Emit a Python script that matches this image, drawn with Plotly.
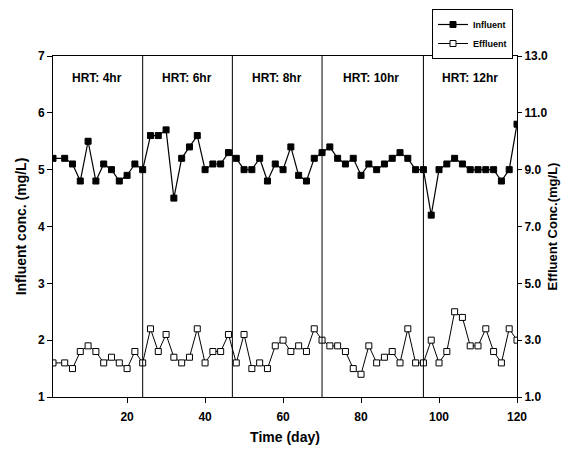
import plotly.graph_objects as go

days = [1] + list(range(4, 121, 2))
influent = [5.2, 5.2, 5.1, 4.8, 5.5, 4.8, 5.1, 5.0, 4.8, 4.9, 5.1, 5.0,
            5.6, 5.6, 5.7, 4.5, 5.2, 5.4, 5.6, 5.0, 5.1, 5.1, 5.3, 5.2,
            5.0, 5.0, 5.2, 4.8, 5.1, 5.0, 5.4, 4.9, 4.8, 5.2, 5.3,
            5.4, 5.2, 5.1, 5.2, 4.9, 5.1, 5.0, 5.1, 5.2, 5.3, 5.2, 5.0, 5.0,
            4.2, 5.0, 5.1, 5.2, 5.1, 5.0, 5.0, 5.0, 5.0, 4.8, 5.0, 5.8]
effluent = [2.2, 2.2, 2.0, 2.6, 2.8, 2.6, 2.2, 2.4, 2.2, 2.0, 2.6, 2.2,
            3.4, 2.6, 3.2, 2.4, 2.2, 2.4, 3.4, 2.2, 2.6, 2.6, 3.2, 2.2,
            3.2, 2.0, 2.2, 2.0, 2.8, 3.0, 2.6, 2.8, 2.6, 3.4, 3.0,
            2.8, 2.8, 2.6, 2.0, 1.8, 2.8, 2.2, 2.4, 2.6, 2.2, 3.4, 2.2, 2.2,
            3.0, 2.2, 2.6, 4.0, 3.8, 2.8, 2.8, 3.4, 2.6, 2.2, 3.4, 3.0]
hrt_bounds = [24, 47, 70, 96]
hrt_labels = ["HRT: 4hr", "HRT: 6hr", "HRT: 8hr", "HRT: 10hr", "HRT: 12hr"]
hrt_label_x = [12.2, 35.4, 58.5, 82.5, 108]
x_ticks = [20, 40, 60, 80, 100, 120]
left_ticks = [1, 2, 3, 4, 5, 6, 7]
right_ticks = [1, 3, 5, 7, 9, 11, 13]

FONT = "Arial, Liberation Sans, sans-serif"

fig = go.Figure()
fig.add_trace(go.Scatter(
    x=days, y=influent, name="Influent", mode="lines+markers",
    line=dict(color="black", width=1.2),
    marker=dict(symbol="square", size=6, color="black",
                line=dict(color="black", width=1)),
))
fig.add_trace(go.Scatter(
    x=days, y=effluent, name="Effluent", mode="lines+markers", yaxis="y2",
    line=dict(color="black", width=1),
    marker=dict(symbol="square", size=6, color="white",
                line=dict(color="black", width=1)),
))

for b in hrt_bounds:
    fig.add_shape(type="line", xref="x", yref="paper", x0=b, x1=b, y0=0, y1=1,
                  line=dict(color="black", width=1))

for lbl, lx in zip(hrt_labels, hrt_label_x):
    fig.add_annotation(x=lx, y=6.61, xref="x", yref="y", text=lbl, showarrow=False,
                       font=dict(family=FONT, size=12, color="black", weight="bold"))

fig.update_layout(
    width=559, height=437,
    margin=dict(l=45, r=50, t=48, b=48, autoexpand=False),
    paper_bgcolor="white", plot_bgcolor="white",
    font=dict(family=FONT, color="black"),
    showlegend=True,
    legend=dict(x=460 / 464, xanchor="right",
                y=1 + 47 / 341, yanchor="top",
                bordercolor="black", borderwidth=1, bgcolor="white",
                font=dict(family=FONT, size=9, color="black", weight="bold"),
                tracegroupgap=0),
    xaxis=dict(range=[1, 120], tickvals=x_ticks, ticks="outside", ticklen=5,
               ticklabelstandoff=4,
               tickcolor="black", showline=True, linecolor="black", linewidth=1,
               mirror=True, showgrid=False, zeroline=False,
               tickfont=dict(family=FONT, size=12, color="black", weight="bold"),
               title=dict(text="Time (day)", standoff=8,
                          font=dict(family=FONT, size=14, color="black", weight="bold"))),
    yaxis=dict(range=[1, 7], tickvals=left_ticks, ticks="outside", ticklen=5,
               tickcolor="black", showline=True, linecolor="black", linewidth=1,
               showgrid=False, zeroline=False,
               tickfont=dict(family=FONT, size=12, color="black", weight="bold"),
               title=dict(text="Influent conc. (mg/L)", standoff=8,
                          font=dict(family=FONT, size=14, color="black", weight="bold"))),
    yaxis2=dict(range=[1, 13], tickvals=right_ticks, tickformat=".1f", overlaying="y",
                side="right", ticks="outside", ticklen=4, tickcolor="black",
                showline=True, linecolor="black", linewidth=1, showgrid=False, zeroline=False,
                tickfont=dict(family=FONT, size=12, color="black", weight="bold"),
                title=dict(text="Effluent Conc.(mg/L)", standoff=0,
                           font=dict(family=FONT, size=13, color="black", weight="bold"))),
)

fig.write_html("out.html")
